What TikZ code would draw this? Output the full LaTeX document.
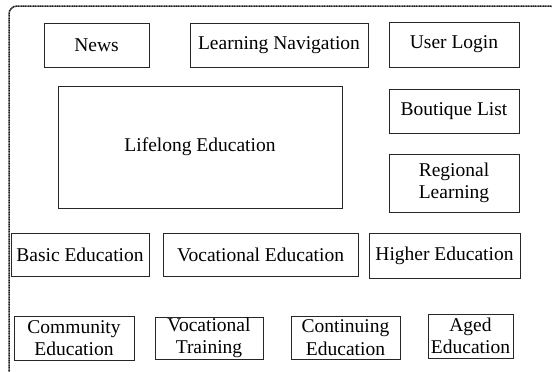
\documentclass[tikz,border=0pt]{standalone}
\usepackage{fontspec}
\setmainfont{Liberation Serif}
\begin{document}
\begin{tikzpicture}[x=1pt,y=-1pt,
  box/.style={draw=black!85,line width=0.8pt,inner sep=0pt,align=center,
    font=\fontsize{19.5}{22.5}\selectfont},
  frame/.style={draw=black!90,line width=1.5pt,dash pattern=on 1.2pt off 0.5pt,rounded corners=8pt}]
\useasboundingbox (0,0) rectangle (552,372);
\begin{scope}
\clip (0,0) rectangle (552,372);
\draw[frame] (9,390) -- (9,6) -- (558,6) -- (558,390);
\end{scope}
\node[box,minimum width=105pt,minimum height=44pt] (news) at (96.5,45) {News};
\node[box,minimum width=178pt,minimum height=44pt] (nav) at (279,45) {Learning Navigation};
\node[box,minimum width=130pt,minimum height=45pt] (login) at (454,44.5) {User Login};
\node[box,minimum width=284pt,minimum height=122pt] (life) at (200,147) {Lifelong Education};
\node[box,minimum width=130pt,minimum height=44pt] (bout) at (454,111) {Boutique List};
\node[box,minimum width=130pt,minimum height=58pt] (reg) at (454,183) {Regional\\Learning};
\node[box,minimum width=138pt,minimum height=43pt] (basic) at (80,254.5) {Basic Education};
\node[box,minimum width=195pt,minimum height=43pt] (voced) at (260.5,254.5) {Vocational Education};
\node[box,minimum width=151pt,minimum height=45pt] (higher) at (444.5,255.5) {Higher Education};
\node[box,minimum width=120pt,minimum height=44pt] (comm) at (74,338) {Community\\Education};
\node[box,minimum width=108pt,minimum height=42pt] (vtrain) at (209,338) {Vocational\\Training};
\node[box,minimum width=109pt,minimum height=43pt] (cont) at (345.5,337.5) {Continuing\\Education};
\node[box,minimum width=85pt,minimum height=44pt] (aged) at (470.5,336) {Aged\\Education};
\end{tikzpicture}
\end{document}
